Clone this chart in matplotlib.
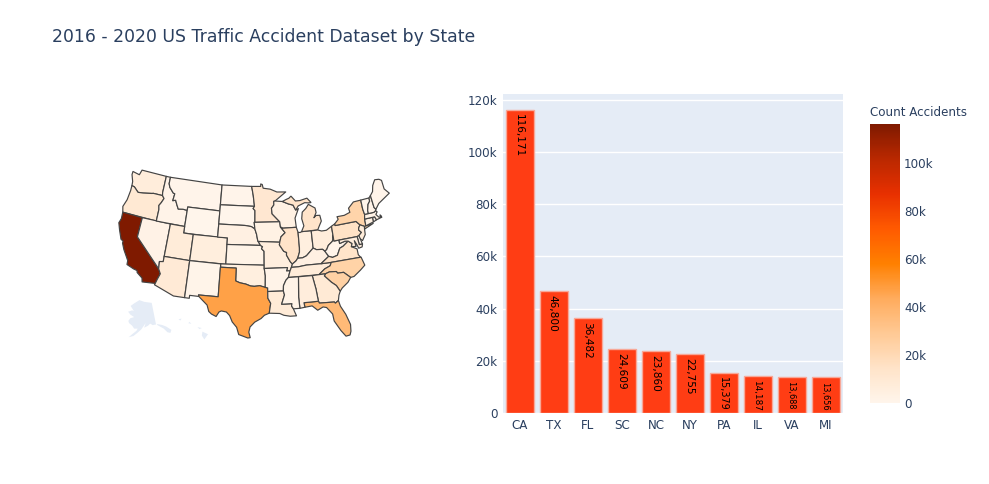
import numpy as np
import matplotlib.pyplot as plt
from matplotlib.colors import LinearSegmentedColormap, Normalize
from matplotlib.cm import ScalarMappable
from matplotlib.ticker import FuncFormatter

TEXT = '#2a3f5f'
PANEL = '#E5ECF6'

# top ten for the bar chart
top_states = ['CA', 'TX', 'FL', 'SC', 'NC', 'NY', 'PA', 'IL', 'VA', 'MI']
top_counts = [116171, 46800, 36482, 24609, 23860, 22755, 15379, 14187, 13688, 13656]
top_label_sizes = [7.6, 7.6, 7.6, 7.6, 7.6, 7.6, 6.9, 6.4, 5.9, 5.9]

# the rest are estimated from the map shading
other_counts = {
    'OR': 10000, 'MN': 11000, 'AZ': 9000, 'UT': 7500, 'GA': 9500, 'TN': 7500, 'LA': 8500,
    'NJ': 7500, 'MD': 6500, 'OH': 7000, 'WA': 7000, 'CO': 6000, 'AL': 6500, 'MO': 5500,
    'OK': 5000, 'IN': 5000, 'KY': 4000, 'WI': 3500, 'CT': 3500, 'NE': 4000, 'NV': 2500,
    'IA': 3000, 'KS': 2000, 'MA': 2500, 'ID': 1500, 'AR': 1500, 'MS': 2000, 'NH': 1500,
    'ME': 800, 'MT': 800, 'ND': 500, 'SD': 200, 'WY': 400, 'NM': 1200, 'WV': 900,
    'DE': 1000, 'RI': 800, 'VT': 300,
}

# simplified state outlines, lon/lat
states = {
    'WA': [(-124.7,48.4),(-123.1,48.2),(-122.8,49),(-117.03,49),(-117.04,46.43),(-116.92,45.99),(-118.98,46),(-119.3,45.93),(-121.2,45.65),(-122.3,45.55),(-122.8,45.85),(-123.4,46.2),(-124,46.27),(-124.1,46.9),(-124.7,47.9)],
    'OR': [(-124,46.27),(-123.4,46.2),(-122.8,45.85),(-122.3,45.55),(-121.2,45.65),(-119.3,45.93),(-118.98,46),(-116.92,45.99),(-116.46,45.6),(-116.85,44.9),(-117.22,44.4),(-117.03,43.8),(-117.03,42),(-124.21,42),(-124.55,42.84),(-124.1,44),(-123.95,45.5)],
    'CA': [(-124.21,42),(-120,42),(-120,39),(-114.63,35),(-114.14,34.3),(-114.5,33.4),(-114.72,32.72),(-117.12,32.53),(-117.3,33.1),(-118.4,33.75),(-118.5,34.03),(-119.2,34.15),(-120.6,34.55),(-120.65,35.15),(-121.9,36.6),(-122.5,37.5),(-122.5,37.8),(-123,38),(-123.8,39.3),(-124.35,40.3),(-124.1,41)],
    'NV': [(-120,42),(-114.04,42),(-114.04,36.2),(-114.75,36.1),(-114.63,35),(-120,39)],
    'ID': [(-117.03,49),(-116.05,49),(-116.05,48),(-115.7,47.45),(-114.7,46.7),(-114.35,46.65),(-114.5,45.55),(-113.9,45.7),(-113.45,45.05),(-113,44.45),(-112,44.55),(-111.05,44.48),(-111.05,42),(-117.03,42),(-117.03,43.8),(-117.22,44.4),(-116.85,44.9),(-116.46,45.6),(-116.92,45.99),(-117.04,46.43)],
    'MT': [(-116.05,49),(-104.05,49),(-104.05,45),(-111.05,45),(-111.05,44.48),(-112,44.55),(-113,44.45),(-113.45,45.05),(-113.9,45.7),(-114.5,45.55),(-114.35,46.65),(-114.7,46.7),(-115.7,47.45),(-116.05,48)],
    'WY': [(-111.05,45),(-104.05,45),(-104.05,41),(-111.05,41)],
    'UT': [(-114.04,42),(-111.05,42),(-111.05,41),(-109.05,41),(-109.05,37),(-114.04,37)],
    'CO': [(-109.05,41),(-102.05,41),(-102.05,37),(-109.05,37)],
    'AZ': [(-114.04,37),(-109.05,37),(-109.05,31.33),(-111.07,31.33),(-114.81,32.5),(-114.72,32.72),(-114.5,33.4),(-114.14,34.3),(-114.63,35),(-114.75,36.1),(-114.04,36.2)],
    'NM': [(-109.05,37),(-103,37),(-103.04,32),(-106.62,32),(-106.53,31.78),(-108.2,31.78),(-108.2,31.33),(-109.05,31.33)],
    'ND': [(-104.05,49),(-97.23,49),(-96.85,47.6),(-96.56,45.94),(-104.05,45.94)],
    'SD': [(-104.05,45.94),(-96.56,45.94),(-96.85,45.6),(-96.45,45.3),(-96.45,43.5),(-96.6,43.5),(-96.45,42.49),(-97.2,42.85),(-98.5,43),(-104.05,43)],
    'NE': [(-104.05,43),(-98.5,43),(-97.2,42.85),(-96.45,42.49),(-96.1,41.7),(-95.85,40.7),(-95.3,40),(-102.05,40),(-102.05,41),(-104.05,41)],
    'KS': [(-102.05,40),(-95.3,40),(-94.9,39.8),(-95.1,39.5),(-94.6,39.1),(-94.62,37),(-102.04,37)],
    'OK': [(-103,37),(-94.62,37),(-94.62,36.5),(-94.43,35.4),(-94.48,33.64),(-95.5,33.9),(-96.5,33.8),(-97.2,33.85),(-98.1,34.13),(-99.2,34.3),(-100,34.56),(-100,36.5),(-103,36.5)],
    'TX': [(-106.62,32),(-103.04,32),(-103.04,36.5),(-100,36.5),(-100,34.56),(-99.2,34.3),(-98.1,34.13),(-97.2,33.85),(-96.5,33.8),(-95.5,33.9),(-94.48,33.64),(-94.04,33.55),(-94.04,33),(-94.04,31.99),(-93.55,31.2),(-93.85,29.7),(-94.7,29.4),(-95.3,28.9),(-96.4,28.35),(-97.2,27.6),(-97.4,26.8),(-97.15,25.96),(-97.55,25.9),(-99.1,26.4),(-99.5,27.5),(-100.3,28.3),(-100.8,29.25),(-101.4,29.77),(-102.3,29.88),(-102.7,29.7),(-103.15,28.98),(-104,29.3),(-104.5,29.65),(-104.9,30.6),(-106,31.4),(-106.53,31.78)],
    'MN': [(-97.23,49),(-95.15,49),(-95.15,49.38),(-94.8,49.3),(-94.6,48.72),(-93,48.55),(-91.5,48.07),(-89.5,48),(-92,46.7),(-92.3,46.65),(-92.3,46.1),(-92.85,45.6),(-92.75,44.75),(-91.2,43.5),(-96.45,43.5),(-96.45,45.3),(-96.85,45.6),(-96.56,45.94),(-96.85,47.6)],
    'IA': [(-96.6,43.5),(-91.2,43.5),(-91.1,42.7),(-90.2,41.8),(-91.1,41.2),(-91.4,40.4),(-95.75,40.6),(-95.85,40.7),(-96.1,41.7),(-96.45,42.49)],
    'MO': [(-95.75,40.6),(-91.4,40.4),(-91.5,40),(-90.7,39),(-90.15,38.8),(-90.2,38.4),(-89.5,37.3),(-89.15,37),(-89.4,36.5),(-89.7,36),(-90.37,36),(-90.15,36.5),(-94.62,36.5),(-94.62,37),(-94.6,39.1),(-95.1,39.5),(-94.9,39.8),(-95.3,40)],
    'AR': [(-94.62,36.5),(-90.15,36.5),(-90.37,36),(-89.7,36),(-90.1,35),(-90.6,34.6),(-91.1,33.8),(-91.17,33),(-94.04,33),(-94.04,33.55),(-94.48,33.64),(-94.43,35.4)],
    'LA': [(-94.04,33),(-91.17,33),(-91,32.4),(-91.6,31),(-89.75,31),(-89.85,30.65),(-89.55,30.2),(-89.4,29.8),(-89.1,29.1),(-90.2,29.1),(-91.3,29.3),(-92,29.6),(-93.85,29.7),(-93.55,31.2),(-94.04,31.99)],
    'WI': [(-92,46.7),(-90.4,46.57),(-89.1,46.14),(-88.1,45.9),(-87.6,45.1),(-87,45.3),(-87.9,43.9),(-87.8,42.49),(-90.64,42.5),(-91.1,42.7),(-91.2,43.5),(-92.75,44.75),(-92.85,45.6),(-92.3,46.1),(-92.3,46.65)],
    'IL': [(-90.64,42.5),(-87.8,42.49),(-87.53,41.7),(-87.53,39.35),(-87.6,38.7),(-88.05,37.8),(-88.45,37.4),(-89.15,37),(-89.5,37.3),(-90.2,38.4),(-90.15,38.8),(-90.7,39),(-91.5,40),(-91.4,40.4),(-91.1,41.2),(-90.2,41.8),(-91.1,42.7)],
    'IN': [(-87.53,41.7),(-87.1,41.65),(-86.8,41.76),(-84.8,41.76),(-84.82,39.1),(-85.4,38.7),(-86.3,38.05),(-87.1,37.8),(-88.05,37.8),(-87.6,38.7),(-87.53,39.35)],
    'MI': [(-86.8,41.76),(-84.8,41.76),(-83.45,41.73),(-83.1,42.2),(-82.45,43),(-82.6,43.9),(-83.4,43.95),(-83.9,43.65),(-83.3,44.4),(-83.4,45.1),(-84.75,45.78),(-85.4,45.2),(-86.25,44.7),(-86.5,43.7),(-86.2,42.6)],
    'OH': [(-84.8,41.72),(-83.45,41.73),(-82.7,41.5),(-81.7,41.5),(-80.52,41.98),(-80.52,40.64),(-80.65,40),(-80.85,39.7),(-81.75,39.2),(-82.2,38.6),(-82.6,38.4),(-83,38.73),(-84.2,38.8),(-84.82,39.1)],
    'KY': [(-89.15,37),(-88.45,37.4),(-88.05,37.8),(-87.1,37.8),(-86.3,38.05),(-85.4,38.7),(-84.82,39.1),(-84.2,38.8),(-83,38.73),(-82.6,38.4),(-82,37.55),(-83.68,36.6),(-86.5,36.65),(-88.07,36.5),(-89.4,36.5)],
    'TN': [(-89.4,36.5),(-88.07,36.5),(-86.5,36.65),(-83.68,36.6),(-81.68,36.59),(-82,36.1),(-83.1,35.75),(-84.32,35),(-90.1,35),(-89.7,36)],
    'WV': [(-82.6,38.4),(-82.2,38.6),(-81.75,39.2),(-80.85,39.7),(-80.65,40),(-80.52,40.64),(-80.52,39.72),(-79.48,39.72),(-79.48,39.2),(-78.35,39.4),(-77.72,39.32),(-78.9,38.7),(-79.6,38.5),(-80.3,37.5),(-81.3,37.3),(-82,37.55)],
    'VA': [(-83.68,36.6),(-82,37.55),(-81.3,37.3),(-80.3,37.5),(-79.6,38.5),(-78.9,38.7),(-77.72,39.32),(-77.05,38.85),(-77.3,38.4),(-76.3,37.9),(-76.3,37),(-75.95,36.55),(-81.68,36.59)],
    'NC': [(-84.32,35),(-83.1,35.75),(-82,36.1),(-81.68,36.59),(-75.87,36.55),(-75.5,35.25),(-76.5,34.65),(-77.9,33.9),(-78.55,33.85),(-79.68,34.8),(-80.8,34.82),(-81,35.1),(-82.3,35.2),(-83.1,35)],
    'SC': [(-83.1,35),(-82.3,35.2),(-81,35.1),(-80.8,34.82),(-79.68,34.8),(-78.55,33.85),(-79.2,33.2),(-80.4,32.5),(-80.87,32.05),(-81.4,33),(-82.2,33.6),(-83.35,34.7)],
    'GA': [(-85.6,34.98),(-84.32,35),(-83.1,35),(-83.35,34.7),(-82.2,33.6),(-81.4,33),(-80.87,32.05),(-81.2,31.5),(-81.45,30.7),(-82.05,30.37),(-82.2,30.57),(-84.86,30.7),(-85,31),(-85.1,32),(-85.18,32.87)],
    'FL': [(-87.6,31),(-85,31),(-84.86,30.7),(-82.2,30.57),(-82.05,30.37),(-81.45,30.7),(-81.25,29.8),(-80.55,28.45),(-80.03,26.8),(-80.15,25.75),(-80.4,25.2),(-81.1,25.12),(-81.8,26.1),(-82.7,27.7),(-82.8,28.8),(-83.7,29.9),(-84.3,30.05),(-85.3,29.65),(-86.2,30.4),(-87.5,30.3)],
    'AL': [(-88.2,35),(-85.6,34.98),(-85.18,32.87),(-85.1,32),(-85,31),(-87.6,31),(-87.5,30.3),(-88.4,30.2),(-88.47,31.9)],
    'MS': [(-90.1,35),(-88.2,35),(-88.47,31.9),(-88.4,30.2),(-89.55,30.2),(-89.85,30.65),(-89.75,31),(-91.6,31),(-91,32.4),(-91.17,33),(-91.1,33.8),(-90.6,34.6)],
    'PA': [(-80.52,41.98),(-79.76,42.27),(-79.76,42),(-75.35,42),(-74.7,41.36),(-75.1,40.95),(-75.2,40.65),(-74.75,40.2),(-75.4,39.8),(-75.78,39.72),(-80.52,39.72)],
    'NY': [(-79.76,42.27),(-78.9,42.85),(-79.05,43.27),(-77.5,43.27),(-76.2,43.55),(-76.3,44.2),(-75,44.98),(-73.35,45),(-73.4,43.6),(-73.27,42.75),(-73.5,42.05),(-73.55,41.3),(-73.65,41),(-72,41.1),(-73.9,40.6),(-73.9,41),(-74.7,41.36),(-75.35,42),(-79.76,42)],
    'NJ': [(-74.7,41.36),(-73.9,41),(-74,40.5),(-74.1,39.75),(-74.9,38.95),(-75.5,39.5),(-75.4,39.8),(-74.75,40.2),(-75.2,40.65),(-75.1,40.95)],
    'DE': [(-75.78,39.72),(-75.4,39.8),(-75.05,38.45),(-75.7,38.46)],
    'MD': [(-79.48,39.72),(-75.78,39.72),(-75.7,38.46),(-75.05,38.45),(-75.25,38.03),(-75.95,37.95),(-76.2,38.6),(-76.5,39.2),(-76.4,38.3),(-77.3,38.4),(-77.05,38.85),(-77.72,39.32),(-78.35,39.4),(-79.48,39.2)],
    'CT': [(-73.5,42.05),(-71.8,42.02),(-71.85,41.32),(-73.65,41),(-73.55,41.3)],
    'RI': [(-71.8,42.02),(-71.38,42.02),(-71.15,41.5),(-71.85,41.32)],
    'MA': [(-73.27,42.75),(-71.3,42.7),(-70.85,42.88),(-70.6,42.65),(-71,42.3),(-70.55,41.8),(-70,41.8),(-70.2,42.07),(-69.95,41.67),(-71.15,41.5),(-71.38,42.02),(-71.8,42.02),(-73.5,42.05)],
    'VT': [(-73.35,45),(-71.5,45.01),(-71.55,44.5),(-72.05,44.1),(-72.45,43.2),(-72.46,42.73),(-73.27,42.75),(-73.4,43.6)],
    'NH': [(-71.5,45.01),(-71.08,45.3),(-70.98,43.4),(-70.7,43.07),(-70.85,42.88),(-71.3,42.7),(-72.46,42.73),(-72.45,43.2),(-72.05,44.1),(-71.55,44.5)],
    'ME': [(-71.08,45.3),(-70.4,45.8),(-70,46.7),(-69.23,47.46),(-68.3,47.35),(-67.8,47.07),(-67.8,45.7),(-67,44.85),(-68.5,44.3),(-69.8,43.8),(-70.7,43.07),(-70.98,43.4)],
}
michigan_upper = [(-90.4,46.57),(-89.1,46.14),(-88.1,45.9),(-87.6,45.1),(-87,45.7),(-85.5,46.1),(-84.7,46),(-84.1,46),(-84.9,46.75),(-86.5,46.5),(-87.5,46.5),(-88.4,47.3),(-88.9,47),(-89.5,46.85)]

# no data for these two, they only show as land colour
alaska = [(-141,69.65),(-141,60.3),(-139.8,59.6),(-137.5,58.5),(-135.5,57.5),(-133.5,55.5),(-131.5,54.8),(-130,55.9),(-133,58),(-136,59.2),(-139.5,60),(-144,60),(-146,60.8),(-148,60),(-151.5,59.2),(-150,61.2),(-154,58.5),(-157,57),(-160,55.5),(-163.5,54.7),(-161.5,56),(-158,57.8),(-157,58.8),(-160,58.7),(-162,59.9),(-165,60.8),(-166,61.7),(-164.5,63),(-161,63.7),(-165,64.5),(-168,65.6),(-164,66.5),(-162,66.3),(-166.5,68.3),(-163,69.6),(-156.5,71.3),(-150,70.5)]
hawaii = [
    [(-155.9,20.2),(-155,19.8),(-155.6,19),(-156,19.6)],
    [(-156.7,20.9),(-156,20.75),(-156.4,20.6)],
    [(-158.2,21.5),(-157.7,21.4),(-158,21.7)],
    [(-159.8,22.1),(-159.3,22.2),(-159.5,21.9)],
]

colorscale = ['#FFF5EB', '#FFE3C8', '#FFC994', '#FFAB5C', '#FF8000', '#FF5A00', '#E83000', '#BA2800', '#7F1A00']
cmap = LinearSegmentedColormap.from_list('acc', colorscale)
norm = Normalize(0, max(top_counts))
counts = dict(zip(top_states, top_counts))
counts.update(other_counts)


def conic(pts, rot, center, par0, par1):
    # same maths as d3 conicEqualArea
    lon, lat = np.radians(np.array(pts)).T
    rot_r = np.radians(rot)
    s0, s1 = np.sin(np.radians(par0)), np.sin(np.radians(par1))
    n = (s0 + s1) / 2
    c = 1 + s0 * (2 * n - s0)
    r0 = np.sqrt(c) / n

    def raw(lam, phi):
        r = np.sqrt(c - 2 * n * np.sin(phi)) / n
        return r * np.sin(lam * n), r0 - r * np.cos(lam * n)

    cx, cy = raw(np.radians(center[0]), np.radians(center[1]))
    x, y = raw(lon + rot_r, lat)
    return x - cx, y - cy


def lower48(pts):
    return conic(pts, 96, (-0.6, 38.7), 29.5, 45.5)


def alaska_proj(pts):
    x, y = conic(pts, 154, (-2, 58.5), 55, 65)
    return x * 0.35 - 0.307, y * 0.35 - 0.201


def hawaii_proj(pts):
    x, y = conic(pts, 157, (-3, 19.9), 8, 18)
    return x - 0.205, y - 0.212


fig = plt.figure(figsize=(9.89, 4.84), dpi=100)
W, H = 989, 484

# map
MAP_SCALE = 375
MAP_CX, MAP_CY = 254, 254
ax_map = fig.add_axes([0, 0, 1, 1])
ax_map.set_xlim(-MAP_CX / MAP_SCALE, (W - MAP_CX) / MAP_SCALE)
ax_map.set_ylim(-(H - MAP_CY) / MAP_SCALE, MAP_CY / MAP_SCALE)
ax_map.axis('off')
for st, pts in states.items():
    x, y = lower48(pts)
    ax_map.fill(x, y, fc=cmap(norm(counts[st])), ec='#444444', lw=0.85, joinstyle='round')
x, y = lower48(michigan_upper)
ax_map.fill(x, y, fc=cmap(norm(counts['MI'])), ec='#444444', lw=0.85)
x, y = alaska_proj(alaska)
ax_map.fill(x, y, fc=PANEL, ec='none')
for isl in hawaii:
    x, y = hawaii_proj(isl)
    ax_map.fill(x, y, fc=PANEL, ec='none')

# bars
ax = fig.add_axes([503 / W, 1 - 413 / H, 340 / W, 319 / H])
ax.set_facecolor(PANEL)
pos = np.arange(len(top_states))
ax.bar(pos, top_counts, width=0.8, color='#FF3D14', edgecolor='#F8A898', linewidth=1, zorder=3)
ax.set_xlim(-0.5, 9.5)
ax.set_ylim(0, max(top_counts) * 1.0526)
ax.set_xticks(pos, top_states)
ax.set_yticks(np.arange(0, 120001, 20000))
fmt = FuncFormatter(lambda v, _: '0' if v == 0 else f'{v / 1000:.0f}k')
ax.yaxis.set_major_formatter(fmt)
ax.grid(axis='y', color='white', lw=1, zorder=1)
ax.set_axisbelow(True)
ax.tick_params(length=0, labelsize=8.6, labelcolor=TEXT, pad=4)
for s in ax.spines.values():
    s.set_visible(False)
for p, v, fs in zip(pos, top_counts, top_label_sizes):
    ax.annotate(f'{v:,}', (p, v), xytext=(-0.8, -3), textcoords='offset points', rotation=270,
                ha='center', va='top', fontsize=fs, color='black', zorder=4)

# colorbar
cax = fig.add_axes([870 / W, 1 - 403 / H, 30 / W, 279 / H])
cb = fig.colorbar(ScalarMappable(norm=norm, cmap=cmap), cax=cax)
cb.set_ticks(np.arange(0, 100001, 20000))
cb.ax.yaxis.set_major_formatter(fmt)
cb.ax.tick_params(length=0, labelsize=8.6, labelcolor=TEXT, pad=3)
cb.outline.set_visible(False)
fig.text(870 / W, 1 - 112 / H, 'Count Accidents', fontsize=8.6, color=TEXT, ha='left', va='center')

fig.text(52 / W, 1 - 37 / H, '2016 - 2020 US Traffic Accident Dataset by State', fontsize=12.45,
         color=TEXT, ha='left', va='center')

fig.savefig('out.png', dpi=100)
